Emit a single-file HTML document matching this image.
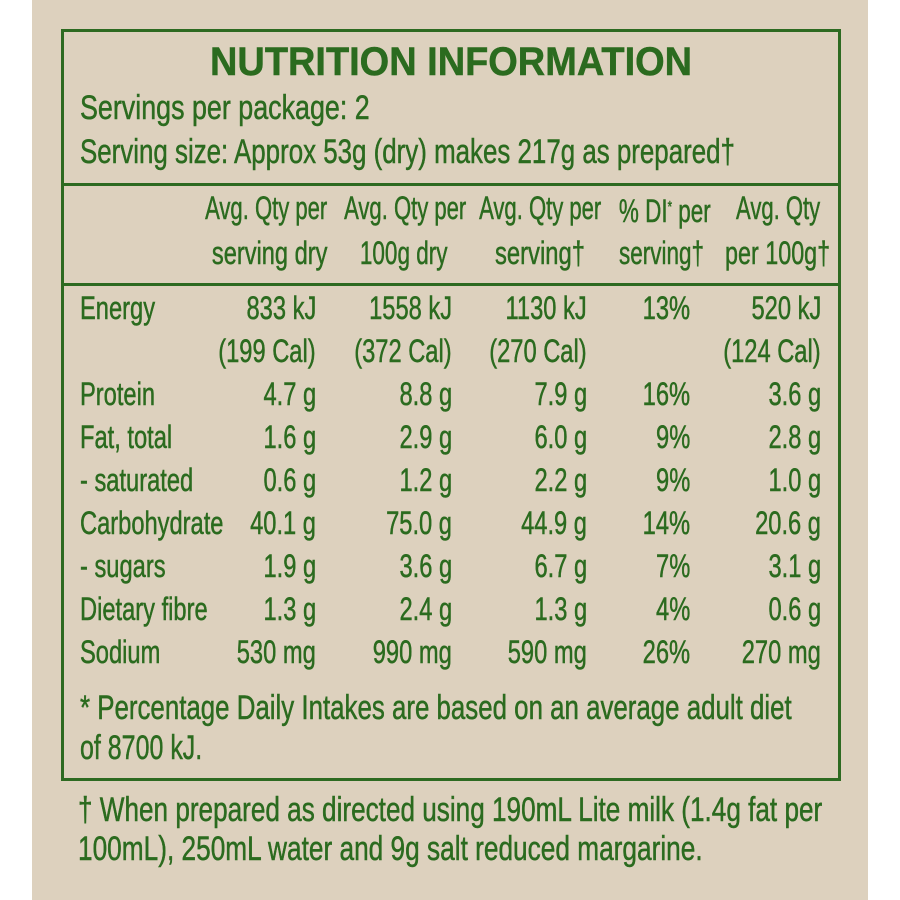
<!DOCTYPE html>
<html><head><meta charset="utf-8">
<style>
html,body{margin:0;padding:0;background:#fff;}
#page{position:relative;width:900px;height:900px;background:#fff;overflow:hidden;font-family:"Liberation Sans",sans-serif;color:#2b6b1f;}
#panel{position:absolute;left:32px;top:0;width:836px;height:900px;background:#ddd1be;}
#box{position:absolute;left:61px;top:29px;width:774px;height:746px;border:3px solid #2d6a21;}
.hl{position:absolute;left:61px;width:780px;height:3px;background:#2d6a21;}
.t{position:absolute;white-space:nowrap;font-size:32px;line-height:32px;transform-origin:left center;transform:scaleX(.74);-webkit-text-stroke:0.5px #2b6b1f;}
.big{font-size:34px;line-height:34px;}
.r{transform-origin:right center;}
.b{font-weight:bold;}
</style></head><body>
<div id="page">
<div id="panel"></div>
<div id="box"></div>
<div class="hl" style="top:183px"></div>
<div class="hl" style="top:283px"></div>

<div class="t b" style="left:210px;top:42px;font-size:40px;line-height:40px" data-w="482">NUTRITION INFORMATION</div>
<div class="t big" style="left:80px;top:91px" data-w="290">Servings per package: 2</div>
<div class="t big" style="left:80px;top:135px" data-w="655">Serving size: Approx 53g (dry) makes 217g as prepared†</div>

<div class="t r" style="right:573px;top:192px" data-w="122">Avg. Qty per</div>
<div class="t r" style="right:434px;top:192px" data-w="122">Avg. Qty per</div>
<div class="t r" style="right:299px;top:192px" data-w="122">Avg. Qty per</div>
<div class="t r" style="right:189px;top:192px" data-w="92">% DI<span style="font-size:16px;vertical-align:10px">*</span> per</div>
<div class="t r" style="right:80px;top:192px" data-w="84">Avg. Qty</div>
<div class="t r" style="right:573px;top:237px" data-w="116">serving dry</div>
<div class="t r" style="right:452px;top:237px" data-w="88">100g dry</div>
<div class="t r" style="right:315px;top:237px" data-w="90">serving†</div>
<div class="t r" style="right:196px;top:237px" data-w="85">serving†</div>
<div class="t r" style="right:70px;top:237px" data-w="105">per 100g†</div>

<div class="t" style="left:80px;top:292px">Energy</div>
<div class="t r" style="right:584px;top:292px">833 kJ</div>
<div class="t r" style="right:448px;top:292px">1558 kJ</div>
<div class="t r" style="right:313px;top:292px">1130 kJ</div>
<div class="t r" style="right:210px;top:292px">13%</div>
<div class="t r" style="right:79px;top:292px">520 kJ</div>
<div class="t r" style="right:584px;top:335px">(199 Cal)</div>
<div class="t r" style="right:448px;top:335px">(372 Cal)</div>
<div class="t r" style="right:313px;top:335px">(270 Cal)</div>
<div class="t r" style="right:79px;top:335px">(124 Cal)</div>

<div class="t" style="left:80px;top:378px">Protein</div>
<div class="t r" style="right:584px;top:378px">4.7 g</div>
<div class="t r" style="right:448px;top:378px">8.8 g</div>
<div class="t r" style="right:313px;top:378px">7.9 g</div>
<div class="t r" style="right:210px;top:378px">16%</div>
<div class="t r" style="right:79px;top:378px">3.6 g</div>

<div class="t" style="left:80px;top:421px">Fat, total</div>
<div class="t r" style="right:584px;top:421px">1.6 g</div>
<div class="t r" style="right:448px;top:421px">2.9 g</div>
<div class="t r" style="right:313px;top:421px">6.0 g</div>
<div class="t r" style="right:210px;top:421px">9%</div>
<div class="t r" style="right:79px;top:421px">2.8 g</div>

<div class="t" style="left:80px;top:464px">- saturated</div>
<div class="t r" style="right:584px;top:464px">0.6 g</div>
<div class="t r" style="right:448px;top:464px">1.2 g</div>
<div class="t r" style="right:313px;top:464px">2.2 g</div>
<div class="t r" style="right:210px;top:464px">9%</div>
<div class="t r" style="right:79px;top:464px">1.0 g</div>

<div class="t" style="left:80px;top:507px">Carbohydrate</div>
<div class="t r" style="right:584px;top:507px">40.1 g</div>
<div class="t r" style="right:448px;top:507px">75.0 g</div>
<div class="t r" style="right:313px;top:507px">44.9 g</div>
<div class="t r" style="right:210px;top:507px">14%</div>
<div class="t r" style="right:79px;top:507px">20.6 g</div>

<div class="t" style="left:80px;top:550px">- sugars</div>
<div class="t r" style="right:584px;top:550px">1.9 g</div>
<div class="t r" style="right:448px;top:550px">3.6 g</div>
<div class="t r" style="right:313px;top:550px">6.7 g</div>
<div class="t r" style="right:210px;top:550px">7%</div>
<div class="t r" style="right:79px;top:550px">3.1 g</div>

<div class="t" style="left:80px;top:593px">Dietary fibre</div>
<div class="t r" style="right:584px;top:593px">1.3 g</div>
<div class="t r" style="right:448px;top:593px">2.4 g</div>
<div class="t r" style="right:313px;top:593px">1.3 g</div>
<div class="t r" style="right:210px;top:593px">4%</div>
<div class="t r" style="right:79px;top:593px">0.6 g</div>

<div class="t" style="left:80px;top:636px">Sodium</div>
<div class="t r" style="right:584px;top:636px">530 mg</div>
<div class="t r" style="right:448px;top:636px">990 mg</div>
<div class="t r" style="right:313px;top:636px">590 mg</div>
<div class="t r" style="right:210px;top:636px">26%</div>
<div class="t r" style="right:79px;top:636px">270 mg</div>

<div class="t big" style="left:80px;top:691px" data-w="712">* Percentage Daily Intakes are based on an average adult diet</div>
<div class="t big" style="left:80px;top:731px" data-w="122">of 8700 kJ.</div>
<div class="t big" style="left:78px;top:793px" data-w="744">† When prepared as directed using 190mL Lite milk (1.4g fat per</div>
<div class="t big" style="left:78px;top:832px" data-w="625">100mL), 250mL water and 9g salt reduced margarine.</div>
</div>
<script>
document.querySelectorAll('[data-w]').forEach(function(el){
  var w = parseFloat(el.getAttribute('data-w'));
  var nat = el.scrollWidth;
  if (nat > 0) el.style.transform = 'scaleX(' + (w / nat) + ')';
});
</script>
</body></html>
